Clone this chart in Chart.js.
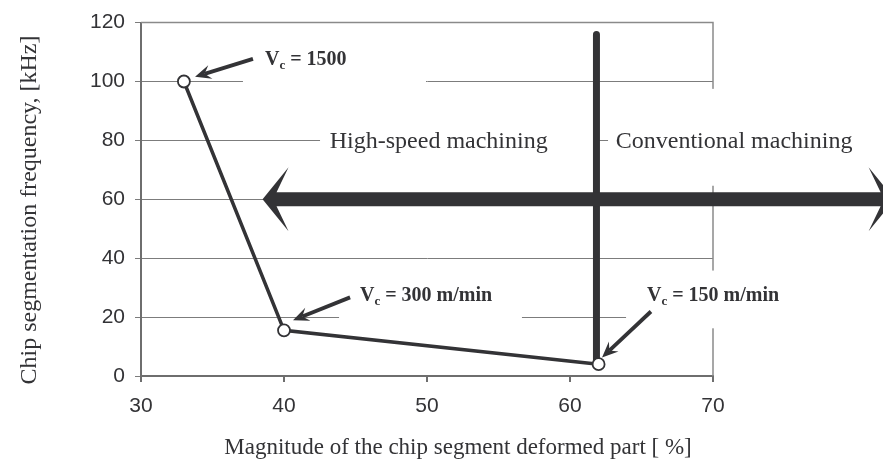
<!DOCTYPE html>
<html>
<head>
<meta charset="utf-8">
<script src="https://cdn.jsdelivr.net/npm/chart.js@4/dist/chart.umd.min.js"></script>
<style>
  html, body { margin: 0; padding: 0; background: #ffffff; }
  #wrap { width: 883px; height: 459px; position: relative; }
</style>
</head>
<body>
<div id="wrap"><canvas id="chipChart"></canvas></div>
<script>
// measured points: deformed part [%] vs segmentation frequency [kHz]
const deformedPart = [33, 40, 62];
const segFrequency = [100, 15.5, 4];
const speedLabels = ['1500', '300 m/min', '150 m/min'];

// boundary between high-speed and conventional machining
const boundaryX = [61.85, 61.85];
const boundaryY = [116, 4];

const xTicks = [30, 40, 50, 60, 70];
const yTicks = [0, 20, 40, 60, 80, 100, 120];

const xTitle = 'Magnitude of the chip segment deformed part [ %]';
const yTitle = 'Chip segmentation frequency, [kHz]';
const regionLabels = ['High-speed machining', 'Conventional machining'];

const INK = '#333336';
const GRID = '#7c7c7c';
const AXIS = '#6e6e6e';
const SERIF = '"Liberation Serif", "Times New Roman", serif';
const SANS = '"Liberation Sans", Arial, sans-serif';

// annotation layout, in data units so it follows the scales
const whiteBoxes = [
    { x0: 37.13, x1: 49.93, y0: 97, y1: 115 },     // V_c = 1500
    { x0: 42.52, x1: 61.75, y0: 64.6, y1: 97.5 },  // high-speed
    { x0: 62.66, x1: 82, y0: 64.6, y1: 97.5 },     // conventional
    { x0: 43.85, x1: 56.64, y0: 16.2, y1: 35.8 },  // V_c = 300
    { x0: 63.92, x1: 77, y0: 16.2, y1: 35.8 }      // V_c = 150
];
const labelPos = [
    { x: 38.67, y: 108.0, tail: [37.83, 107.7], tip: [33.78, 101.6] },
    { x: 45.31, y: 28.0, tail: [44.62, 26.7], tip: [40.63, 18.9] },
    { x: 65.38, y: 28.0, tail: [65.66, 21.9], tip: [62.24, 6.3] }
];
const regionPos = [{ x: 43.2, y: 80 }, { x: 63.2, y: 80 }];
const bigArrow = { from: 38.5, to: 82.7, y: 60 };

function smallArrow(ctx, x1, y1, x2, y2) {
    const ang = Math.atan2(y2 - y1, x2 - x1);
    const len = 16, half = 7, back = 10;
    const bx = x2 - Math.cos(ang) * back, by = y2 - Math.sin(ang) * back;
    ctx.strokeStyle = INK;
    ctx.lineWidth = 3.8;
    ctx.lineCap = 'butt';
    ctx.beginPath();
    ctx.moveTo(x1, y1);
    ctx.lineTo(bx, by);
    ctx.stroke();
    ctx.fillStyle = INK;
    ctx.beginPath();
    ctx.moveTo(x2, y2);
    ctx.lineTo(x2 - Math.cos(ang) * len + Math.sin(ang) * half, y2 - Math.sin(ang) * len - Math.cos(ang) * half);
    ctx.lineTo(bx, by);
    ctx.lineTo(x2 - Math.cos(ang) * len - Math.sin(ang) * half, y2 - Math.sin(ang) * len + Math.cos(ang) * half);
    ctx.closePath();
    ctx.fill();
}

function speedText(ctx, x, y, value) {
    ctx.fillStyle = INK;
    ctx.textBaseline = 'alphabetic';
    ctx.textAlign = 'left';
    const base = y + 7;
    ctx.font = 'bold 20px ' + SERIF;
    ctx.fillText('V', x, base);
    let cx = x + ctx.measureText('V').width;
    ctx.font = 'bold 13px ' + SERIF;
    ctx.fillText('c', cx, base + 4);
    cx += ctx.measureText('c').width;
    ctx.font = 'bold 20px ' + SERIF;
    ctx.fillText(' = ' + value, cx, base);
}

const annotations = {
    id: 'annotations',
    beforeDatasetsDraw(chart) {
        const { ctx, chartArea: a, scales: { x, y } } = chart;
        ctx.save();
        // top and right frame
        ctx.strokeStyle = '#8a8a8a';
        ctx.lineWidth = 1.5;
        ctx.beginPath();
        ctx.moveTo(a.left, a.top);
        ctx.lineTo(a.right, a.top);
        ctx.lineTo(a.right, a.bottom);
        ctx.stroke();
        // white text boxes hide the grid behind the labels
        ctx.fillStyle = '#ffffff';
        whiteBoxes.forEach(b => {
            const l = x.getPixelForValue(b.x0), r = x.getPixelForValue(b.x1);
            const t = y.getPixelForValue(b.y1), btm = y.getPixelForValue(b.y0);
            ctx.fillRect(l, t, r - l, btm - t);
        });
        ctx.restore();
    },
    afterDatasetsDraw(chart) {
        const { ctx, scales: { x, y } } = chart;
        ctx.save();

        // double arrow between the two regimes
        const xl = x.getPixelForValue(bigArrow.from);
        const xr = x.getPixelForValue(bigArrow.to);
        const yc = y.getPixelForValue(bigArrow.y);
        const L = 26, W = 32, N = 14, S = 7;
        ctx.fillStyle = INK;
        ctx.beginPath();
        ctx.moveTo(xl, yc);
        ctx.lineTo(xl + L, yc - W);
        ctx.lineTo(xl + N, yc - S);
        ctx.lineTo(xr - N, yc - S);
        ctx.lineTo(xr - L, yc - W);
        ctx.lineTo(xr, yc);
        ctx.lineTo(xr - L, yc + W);
        ctx.lineTo(xr - N, yc + S);
        ctx.lineTo(xl + N, yc + S);
        ctx.lineTo(xl + L, yc + W);
        ctx.closePath();
        ctx.fill();

        // region captions
        ctx.font = '24px ' + SERIF;
        ctx.fillStyle = INK;
        ctx.textBaseline = 'middle';
        ctx.textAlign = 'left';
        regionLabels.forEach((t, i) => {
            ctx.fillText(t, x.getPixelForValue(regionPos[i].x), y.getPixelForValue(regionPos[i].y) + 1);
        });

        // cutting speed labels with arrows
        labelPos.forEach((p, i) => {
            smallArrow(ctx, x.getPixelForValue(p.tail[0]), y.getPixelForValue(p.tail[1]),
                x.getPixelForValue(p.tip[0]), y.getPixelForValue(p.tip[1]));
            speedText(ctx, x.getPixelForValue(p.x), y.getPixelForValue(p.y), speedLabels[i]);
        });

        // axis titles
        ctx.fillStyle = INK;
        ctx.textAlign = 'center';
        ctx.textBaseline = 'alphabetic';
        ctx.font = '23px ' + SERIF;
        ctx.fillText(xTitle, 458, 454);
        ctx.font = '24px ' + SERIF;
        ctx.translate(36, 210);
        ctx.rotate(-Math.PI / 2);
        ctx.fillText(yTitle, 0, 0);
        ctx.restore();
    }
};

const tickFont = { family: SANS, size: 21 };

new Chart(document.getElementById('chipChart'), {
    type: 'scatter',
    data: {
        datasets: [
            {
                data: deformedPart.map((v, i) => ({ x: v, y: segFrequency[i] })),
                showLine: true,
                borderColor: INK,
                borderWidth: 3.5,
                pointRadius: 6,
                pointBorderWidth: 1.8,
                pointBorderColor: INK,
                pointBackgroundColor: '#ffffff',
                order: 0
            },
            {
                data: boundaryX.map((v, i) => ({ x: v, y: boundaryY[i] })),
                showLine: true,
                borderColor: INK,
                borderWidth: 7,
                borderCapStyle: 'round',
                pointRadius: 0,
                order: 1
            }
        ]
    },
    options: {
        responsive: true,
        maintainAspectRatio: false,
        animation: false,
        layout: { padding: { left: 0, right: 170, top: 22, bottom: 0 } },
        plugins: { legend: { display: false }, tooltip: { enabled: false } },
        scales: {
            x: {
                type: 'linear',
                min: 30,
                max: 70,
                afterBuildTicks: s => { s.ticks = xTicks.map(v => ({ value: v })); },
                afterFit: s => { s.height = 83; },
                grid: { drawOnChartArea: false, tickLength: 6, color: AXIS, lineWidth: 2 },
                border: { color: AXIS, width: 2 },
                ticks: { font: tickFont, color: INK, padding: 12, maxRotation: 0 }
            },
            y: {
                type: 'linear',
                min: 0,
                max: 120,
                afterBuildTicks: s => { s.ticks = yTicks.map(v => ({ value: v })); },
                afterFit: s => { s.width = 141; },
                grid: { color: GRID, lineWidth: 1, tickLength: 6 },
                border: { color: AXIS, width: 2 },
                ticks: { font: tickFont, color: INK, padding: 10 }
            }
        }
    },
    plugins: [annotations]
});
</script>
</body>
</html>
